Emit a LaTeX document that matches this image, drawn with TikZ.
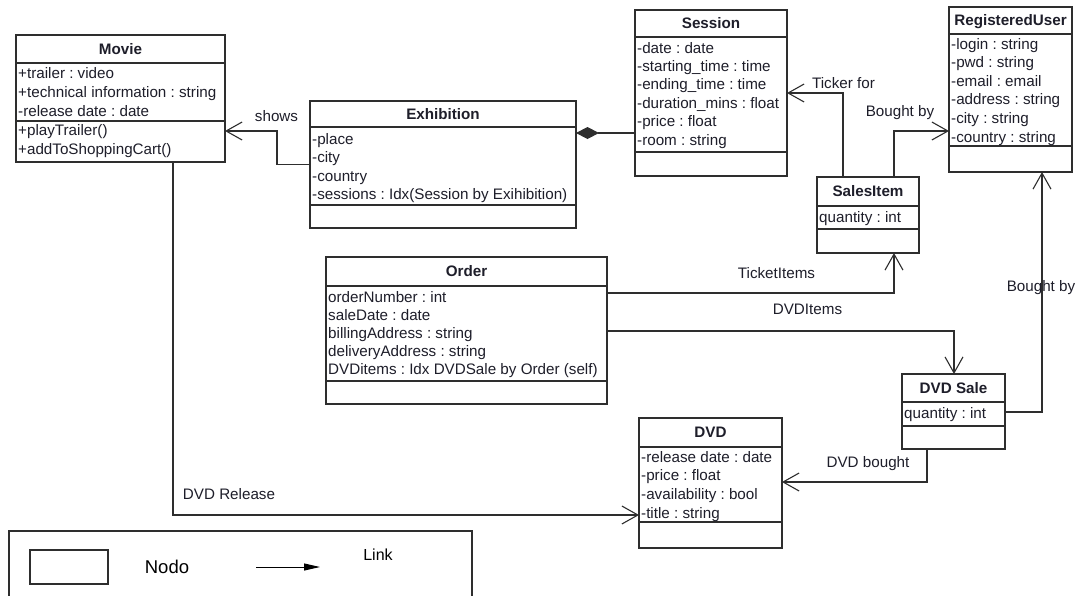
\documentclass[tikz,border=0pt]{standalone}
\usepackage{fontspec}
\setmainfont{Liberation Sans}
\usetikzlibrary{arrows.meta}
\frenchspacing
\definecolor{ink}{HTML}{1E1E2A}
\definecolor{edge}{HTML}{2E2E2E}
\tikzset{
  classbox/.style={draw=edge, line width=1.1pt, rectangle, inner sep=0pt, outer sep=0pt, anchor=north west},
  classline/.style={draw=edge, line width=1.1pt},
  titletext/.style={font=\fontsize{15.2}{18}\selectfont\bfseries, text=ink, anchor=base, inner sep=0pt},
  attr/.style={font=\fontsize{15.2}{18}\selectfont, text=ink, anchor=base west, inner sep=0pt},
  lbl/.style={font=\fontsize{15.2}{18}\selectfont, text=ink, anchor=base, inner sep=0pt},
  assoc/.style={draw=edge, line width=1.1pt, -{Straight Barb[length=16pt,width=18pt]}},
  compo/.style={draw=edge, line width=1.1pt, -{Diamond[length=23pt,width=12pt]}},
  legendbox/.style={draw=edge, line width=1.1pt, rectangle, inner sep=0pt, outer sep=0pt, anchor=north west},
  link/.style={draw=black, line width=1pt, -{Triangle[length=16pt,width=7pt]}},
}
% class box: name, left, top, right, bottom, title separator, attribute separator, title
\newcommand\umlclass[8]{%
  \node[classbox, minimum width={#4-#2}, minimum height={#5-#3}] (#1) at (#2,#3) {};
  \draw[classline] (#2,#6) -- (#4,#6);
  \draw[classline] (#2,#7) -- (#4,#7);
  \node[titletext] (#1-title) at ({(#2+#4)/2},{(#3+#6)/2+5}) {#8};
}
\begin{document}
\begin{tikzpicture}[x=1pt,y=-1pt]
\useasboundingbox (0,0) rectangle (1076,595);
\clip (0,0) rectangle (1076,595);
\fill[white] (0,0) rectangle (1076,595);

% Movie
\umlclass{movie}{16}{35}{225}{162}{63}{121}{Movie}
\node[attr] (movie-a1) at (18,78) {+trailer : video};
\node[attr] (movie-a2) at (18,97) {+technical information : string};
\node[attr] (movie-a3) at (18,116) {-release date : date};
\node[attr] (movie-m1) at (18,135) {+playTrailer()};
\node[attr] (movie-m2) at (18,154) {+addToShoppingCart()};

% Exhibition
\umlclass{exhibition}{310}{101}{576}{228}{127}{205}{Exhibition}
\node[attr] (exh-a1) at (312,144) {-place};
\node[attr] (exh-a2) at (312,162) {-city};
\node[attr] (exh-a3) at (312,181) {-country};
\node[attr] (exh-a4) at (312,199) {-sessions : Idx(Session by Exihibition)};

% Session
\umlclass{session}{635}{10}{787}{176}{37}{152}{Session}
\node[attr] (ses-a1) at (637,53) {-date : date};
\node[attr] (ses-a2) at (637,71.4) {-starting\_time : time};
\node[attr] (ses-a3) at (637,89.8) {-ending\_time : time};
\node[attr] (ses-a4) at (637,108.2) {-duration\_mins : float};
\node[attr] (ses-a5) at (637,126.6) {-price : float};
\node[attr] (ses-a6) at (637,145) {-room : string};

% RegisteredUser
\umlclass{reguser}{949}{7}{1072}{172}{34}{146}{RegisteredUser}
\node[attr] (ru-a1) at (951,49) {-login : string};
\node[attr] (ru-a2) at (951,67.6) {-pwd : string};
\node[attr] (ru-a3) at (951,86.2) {-email : email};
\node[attr] (ru-a4) at (951,104.8) {-address : string};
\node[attr] (ru-a5) at (951,123.4) {-city : string};
\node[attr] (ru-a6) at (951,142) {-country : string};

% SalesItem
\umlclass{salesitem}{817}{177}{919}{253}{206}{229}{SalesItem}
\node[attr] (si-a1) at (819,222) {quantity : int};

% Order
\umlclass{order}{326}{257}{607}{404}{286}{381}{Order}
\node[attr] (ord-a1) at (328,302) {orderNumber : int};
\node[attr] (ord-a2) at (328,320) {saleDate : date};
\node[attr] (ord-a3) at (328,338) {billingAddress : string};
\node[attr] (ord-a4) at (328,356) {deliveryAddress : string};
\node[attr] (ord-a5) at (328,374) {DVDitems : Idx DVDSale by Order (self)};

% DVD Sale
\umlclass{dvdsale}{902}{374}{1005}{449}{402}{426}{DVD Sale}
\node[attr] (ds-a1) at (904,418) {quantity : int};

% DVD
\umlclass{dvd}{639}{418}{782}{548}{447}{522}{DVD}
\node[attr] (dvd-a1) at (641,462) {-release date : date};
\node[attr] (dvd-a2) at (641,480.7) {-price : float};
\node[attr] (dvd-a3) at (641,499.3) {-availability : bool};
\node[attr] (dvd-a4) at (641,518) {-title : string};

% connectors
\draw[assoc] (exhibition.west) -- ++(-33,0) |- ([yshift=-96pt]movie.north east);
\node[lbl] (l-shows) at (276.5,121) {shows};

\coordinate (compE) at ([yshift=-32pt]exhibition.north east);
\draw[compo] (compE -| session.west) -- (compE);

\draw[assoc] ([xshift=26pt]salesitem.north west) |- (session.east);
\node[lbl] (l-ticker) at (843.5,88) {Ticker for};

\draw[assoc] ([xshift=77pt]salesitem.north west) |- ([yshift=-124pt]reguser.north west);
\node[lbl] (l-bought1) at (900,116) {Bought by};

\draw[assoc] ([yshift=-36pt]order.north east) -| ([xshift=77pt]salesitem.south west);
\node[lbl] (l-ticketitems) at (776.5,278) {TicketItems};

\draw[assoc] ([yshift=-74pt]order.north east) -| ([xshift=52pt]dvdsale.north west);
\node[lbl] (l-dvditems) at (807.5,314) {DVDItems};

\draw[assoc] ([yshift=-38pt]dvdsale.north east) -| ([xshift=93pt]reguser.south west);
\node[lbl] (l-bought2) at (1041,291) {Bought by};

\draw[assoc] ([xshift=25pt]dvdsale.south west) |- ([yshift=-64pt]dvd.north east);
\node[lbl] (l-dvdbought) at (868,467) {DVD bought};

\draw[assoc] ([xshift=157pt]movie.south west) |- ([yshift=-97pt]dvd.north west);
\node[lbl] (l-release) at (229,499) {DVD Release};

% legend
\node[legendbox, minimum width=463, minimum height=90] (legend) at (9,531) {};
\node[legendbox, minimum width=78, minimum height=34] (legend-node) at (30,550) {};
\node[font=\fontsize{18.5}{22}\selectfont, inner sep=0pt] (legend-nodo) at (167,567) {Nodo};
\coordinate (linkA) at (256,567);
\coordinate (linkB) at (320,567);
\draw[link] (linkA) -- (linkB);
\node[font=\fontsize{16}{19}\selectfont, inner sep=0pt] (legend-link) at (378,555) {Link};
\end{tikzpicture}
\end{document}
